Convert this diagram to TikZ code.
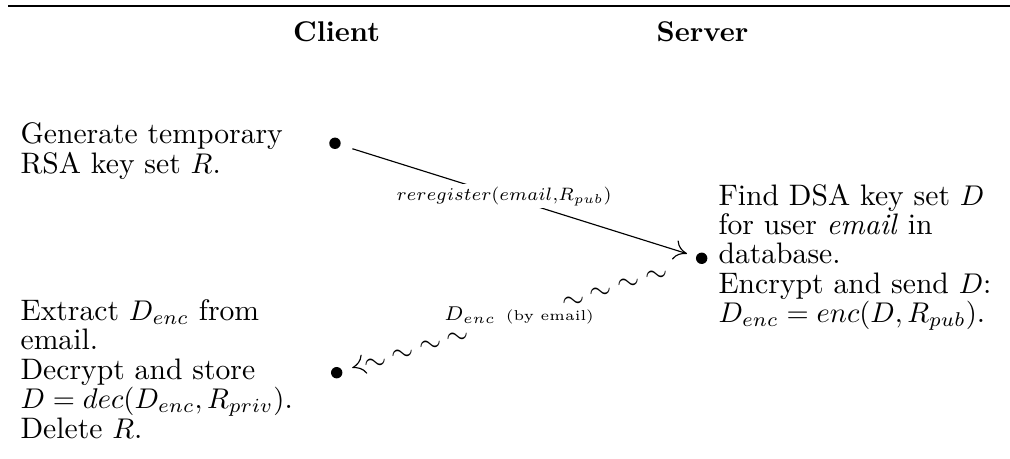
\documentclass[tikz,border=0pt]{standalone}
\usetikzlibrary{arrows.meta,decorations.markings}

\begin{document}
\begin{tikzpicture}[thin,>={Computer Modern Rightarrow[length=4.5pt,width=7pt]},
                txt/.style={align=left,anchor=north west,inner sep=0pt,font=\fontsize{10.4}{10.3}\selectfont},
                head/.style={anchor=base,font=\bfseries},
                dot/.style={circle,fill=black,inner sep=0pt,minimum size=4pt},
                msg/.style={font=\scriptsize,inner sep=1pt},
                wave/.style={font=\normalsize,inner sep=0pt,yshift=-1.2pt}]
                \useasboundingbox (0,0) rectangle (12.455,5.660);
                \draw[line width=0.6pt] (0.1,5.586) -- (12.455,5.586);
                \node[head](Client)at(4.150, 5.142){Client};
                \node[head](Server)at(8.663, 5.142){Server};
                \node[dot](c1)at(4.131, 3.893){};
                \node[dot](c2)at(4.152, 1.064){};
                \node[dot](s1)at(8.653, 2.475){};
                \node[txt](generate)at(0.247, 4.153){Generate temporary\\RSA key set $R$.};
                \node[txt](extract)at(0.247, 1.971){Extract $D_{enc}$ from\\email.\\Decrypt and store\\$D=dec(D_{enc},R_{priv})$.\\Delete $R$.};
                \node[txt](find)at(8.854, 3.400){Find DSA key set $D$\\for user \emph{email} in\\database.\\Encrypt and send $D$:\\$D_{enc}=enc(D,R_{pub})$.};
                \draw[->,shorten <=4.2pt,shorten >=3.2pt] (c1) -- node[msg,fill=white,pos=0.46,scale=0.9,transform shape]{$reregister(email{,}R_{pub})$} (s1);
                \path[postaction={decorate},decoration={markings,
                    mark=between positions 14.4pt and 45pt step 10.2pt with {\node[wave]{$\sim$};},
                    mark=between positions 87.5pt and 118pt step 10.1pt with {\node[wave]{$\sim$};},
                    mark=at position -3.5pt with {\arrow{>}}}]
                    (s1) -- node[msg]{$D_{enc}$\enspace{\tiny (by email)}} (c2);
\end{tikzpicture}
\end{document}
